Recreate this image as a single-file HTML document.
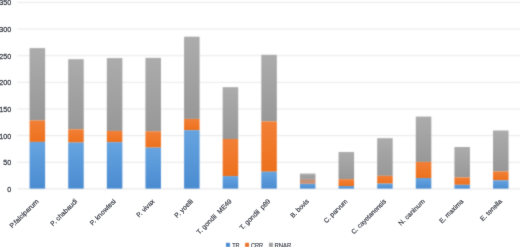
<!DOCTYPE html>
<html><head><meta charset="utf-8"><style>
html,body{margin:0;padding:0;background:#fff;}
svg{display:block;}
text{font-family:"Liberation Sans", sans-serif;font-size:6.7px;fill:#42464f;stroke:#42464f;stroke-width:0.2px;}
</style></head><body>
<svg width="520" height="247" viewBox="0 0 520 247">
<defs>
<filter id="bl" filterUnits="userSpaceOnUse" x="0" y="0" width="520" height="247" color-interpolation-filters="sRGB"><feConvolveMatrix order="3" kernelMatrix="0.0324 0.1152 0.0324 0.1152 0.4096 0.1152 0.0324 0.1152 0.0324" divisor="0.996" edgeMode="none"/></filter>
<filter id="blt" filterUnits="userSpaceOnUse" x="0" y="0" width="520" height="247" color-interpolation-filters="sRGB"><feConvolveMatrix order="3" kernelMatrix="0.0049 0.0602 0.0049 0.0602 0.7396 0.0602 0.0049 0.0602 0.0049" divisor="0.996" edgeMode="none"/></filter>
<linearGradient id="gB" x1="0" y1="0" x2="0" y2="1"><stop offset="0" stop-color="#66a3df"/><stop offset="1" stop-color="#4a8bd0"/></linearGradient>
<linearGradient id="gO" x1="0" y1="0" x2="0" y2="1"><stop offset="0" stop-color="#f17f36"/><stop offset="1" stop-color="#ec701c"/></linearGradient>
<linearGradient id="gOm" x1="0" y1="0" x2="0" y2="1"><stop offset="0" stop-color="#b09a90"/><stop offset="1" stop-color="#d98a60"/></linearGradient>
<linearGradient id="gG" x1="0" y1="0" x2="0" y2="1"><stop offset="0" stop-color="#ababab"/><stop offset="1" stop-color="#979797"/></linearGradient>
</defs>
<rect width="520" height="247" fill="#fff"/>
<g filter="url(#bl)">
<line x1="17.3" x2="520" y1="188.90" y2="188.90" stroke="#e2e2e2" stroke-width="0.9"/>
<line x1="17.3" x2="520" y1="162.26" y2="162.26" stroke="#e6e6e6" stroke-width="0.9"/>
<line x1="17.3" x2="520" y1="135.61" y2="135.61" stroke="#e6e6e6" stroke-width="0.9"/>
<line x1="17.3" x2="520" y1="108.97" y2="108.97" stroke="#e6e6e6" stroke-width="0.9"/>
<line x1="17.3" x2="520" y1="82.33" y2="82.33" stroke="#e6e6e6" stroke-width="0.9"/>
<line x1="17.3" x2="520" y1="55.69" y2="55.69" stroke="#e6e6e6" stroke-width="0.9"/>
<line x1="17.3" x2="520" y1="29.04" y2="29.04" stroke="#e6e6e6" stroke-width="0.9"/>
<line x1="17.3" x2="520" y1="2.40" y2="2.40" stroke="#e6e6e6" stroke-width="0.9"/>
<rect x="29.60" y="48.10" width="15.5" height="72.30" fill="url(#gG)"/>
<rect x="29.60" y="120.40" width="15.5" height="21.50" fill="url(#gO)"/>
<rect x="29.60" y="141.90" width="15.5" height="46.70" fill="url(#gB)"/>
<rect x="68.22" y="59.20" width="15.5" height="70.10" fill="url(#gG)"/>
<rect x="68.22" y="129.30" width="15.5" height="13.20" fill="url(#gO)"/>
<rect x="68.22" y="142.50" width="15.5" height="46.10" fill="url(#gB)"/>
<rect x="106.84" y="58.10" width="15.5" height="72.80" fill="url(#gG)"/>
<rect x="106.84" y="130.90" width="15.5" height="11.30" fill="url(#gO)"/>
<rect x="106.84" y="142.20" width="15.5" height="46.40" fill="url(#gB)"/>
<rect x="145.46" y="57.90" width="15.5" height="73.40" fill="url(#gG)"/>
<rect x="145.46" y="131.30" width="15.5" height="16.30" fill="url(#gO)"/>
<rect x="145.46" y="147.60" width="15.5" height="41.00" fill="url(#gB)"/>
<rect x="184.08" y="36.70" width="15.5" height="82.20" fill="url(#gG)"/>
<rect x="184.08" y="118.90" width="15.5" height="11.30" fill="url(#gO)"/>
<rect x="184.08" y="130.20" width="15.5" height="58.40" fill="url(#gB)"/>
<rect x="222.70" y="87.20" width="15.5" height="51.80" fill="url(#gG)"/>
<rect x="222.70" y="139.00" width="15.5" height="37.10" fill="url(#gO)"/>
<rect x="222.70" y="176.10" width="15.5" height="12.50" fill="url(#gB)"/>
<rect x="261.32" y="54.80" width="15.5" height="66.60" fill="url(#gG)"/>
<rect x="261.32" y="121.40" width="15.5" height="50.30" fill="url(#gO)"/>
<rect x="261.32" y="171.70" width="15.5" height="16.90" fill="url(#gB)"/>
<rect x="299.94" y="173.60" width="15.5" height="5.20" fill="url(#gG)"/>
<rect x="299.94" y="178.80" width="15.5" height="5.00" fill="url(#gOm)"/>
<rect x="299.94" y="183.80" width="15.5" height="4.80" fill="url(#gB)"/>
<rect x="338.56" y="152.00" width="15.5" height="27.20" fill="url(#gG)"/>
<rect x="338.56" y="179.20" width="15.5" height="6.80" fill="url(#gO)"/>
<rect x="338.56" y="186.00" width="15.5" height="2.60" fill="url(#gB)"/>
<rect x="377.18" y="138.20" width="15.5" height="37.60" fill="url(#gG)"/>
<rect x="377.18" y="175.80" width="15.5" height="7.80" fill="url(#gO)"/>
<rect x="377.18" y="183.60" width="15.5" height="5.00" fill="url(#gB)"/>
<rect x="415.80" y="116.60" width="15.5" height="45.30" fill="url(#gG)"/>
<rect x="415.80" y="161.90" width="15.5" height="16.10" fill="url(#gO)"/>
<rect x="415.80" y="178.00" width="15.5" height="10.60" fill="url(#gB)"/>
<rect x="454.42" y="147.00" width="15.5" height="30.40" fill="url(#gG)"/>
<rect x="454.42" y="177.40" width="15.5" height="7.40" fill="url(#gO)"/>
<rect x="454.42" y="184.80" width="15.5" height="3.80" fill="url(#gB)"/>
<rect x="493.04" y="130.50" width="15.5" height="40.90" fill="url(#gG)"/>
<rect x="493.04" y="171.40" width="15.5" height="8.90" fill="url(#gO)"/>
<rect x="493.04" y="180.30" width="15.5" height="8.30" fill="url(#gB)"/>
<rect x="226" y="242.8" width="3.9" height="4.2" fill="#4a8ad0"/>
<rect x="245.1" y="242.8" width="3.9" height="4.2" fill="#ea742c"/>
<rect x="269" y="242.8" width="3.9" height="4.2" fill="#a0a0a0"/>
</g>
<g filter="url(#blt)">
<text x="11.2" y="191.90" text-anchor="end" style="font-size:8.0px;stroke-width:0.3px" textLength="3.95" lengthAdjust="spacingAndGlyphs">0</text>
<text x="11.2" y="165.26" text-anchor="end" style="font-size:8.0px;stroke-width:0.3px" textLength="7.90" lengthAdjust="spacingAndGlyphs">50</text>
<text x="11.2" y="138.61" text-anchor="end" style="font-size:8.0px;stroke-width:0.3px" textLength="11.85" lengthAdjust="spacingAndGlyphs">100</text>
<text x="11.2" y="111.97" text-anchor="end" style="font-size:8.0px;stroke-width:0.3px" textLength="11.85" lengthAdjust="spacingAndGlyphs">150</text>
<text x="11.2" y="85.33" text-anchor="end" style="font-size:8.0px;stroke-width:0.3px" textLength="11.85" lengthAdjust="spacingAndGlyphs">200</text>
<text x="11.2" y="58.69" text-anchor="end" style="font-size:8.0px;stroke-width:0.3px" textLength="11.85" lengthAdjust="spacingAndGlyphs">250</text>
<text x="11.2" y="32.04" text-anchor="end" style="font-size:8.0px;stroke-width:0.3px" textLength="11.85" lengthAdjust="spacingAndGlyphs">300</text>
<text x="11.2" y="5.40" text-anchor="end" style="font-size:8.0px;stroke-width:0.3px" textLength="11.85" lengthAdjust="spacingAndGlyphs">350</text>
<text transform="translate(39.05,201.8) rotate(-45)" text-anchor="end" textLength="37.8" lengthAdjust="spacingAndGlyphs">P.falciparum</text>
<text transform="translate(77.67,201.8) rotate(-45)" text-anchor="end" textLength="34.8" lengthAdjust="spacingAndGlyphs">P. chabaudi</text>
<text transform="translate(116.29,201.8) rotate(-45)" text-anchor="end" textLength="33.8" lengthAdjust="spacingAndGlyphs">P. knowlesi</text>
<text transform="translate(154.91,201.8) rotate(-45)" text-anchor="end" textLength="22.5" lengthAdjust="spacingAndGlyphs">P. vivax</text>
<text transform="translate(193.53,201.8) rotate(-45)" text-anchor="end" textLength="23.4" lengthAdjust="spacingAndGlyphs">P. yoelii</text>
<text transform="translate(232.15,201.8) rotate(-45)" text-anchor="end" textLength="46.5" lengthAdjust="spacingAndGlyphs">T. gondii&#160; ME49</text>
<text transform="translate(270.77,201.8) rotate(-45)" text-anchor="end" textLength="40.4" lengthAdjust="spacingAndGlyphs">T. gondii&#160; p89</text>
<text transform="translate(309.39,201.8) rotate(-45)" text-anchor="end" textLength="23.3" lengthAdjust="spacingAndGlyphs">B. bovis</text>
<text transform="translate(348.01,201.8) rotate(-45)" text-anchor="end" textLength="30.6" lengthAdjust="spacingAndGlyphs">C. parvum</text>
<text transform="translate(386.63,201.8) rotate(-45)" text-anchor="end" textLength="46.2" lengthAdjust="spacingAndGlyphs">C. cayetanensis</text>
<text transform="translate(425.25,201.8) rotate(-45)" text-anchor="end" textLength="34.3" lengthAdjust="spacingAndGlyphs">N. caninum</text>
<text transform="translate(463.87,201.8) rotate(-45)" text-anchor="end" textLength="31.0" lengthAdjust="spacingAndGlyphs">E. maxima</text>
<text transform="translate(502.49,201.8) rotate(-45)" text-anchor="end" textLength="27.8" lengthAdjust="spacingAndGlyphs">E. tenella</text>
<text x="232.2" y="247.5" style="font-size:7.2px" textLength="7.4" lengthAdjust="spacingAndGlyphs">TR</text>
<text x="250.9" y="247.5" style="font-size:7.2px" textLength="12.2" lengthAdjust="spacingAndGlyphs">CRR</text>
<text x="274.4" y="247.5" style="font-size:7.2px" textLength="16.9" lengthAdjust="spacingAndGlyphs">RNAR</text>
</g>
</svg>
</body></html>
